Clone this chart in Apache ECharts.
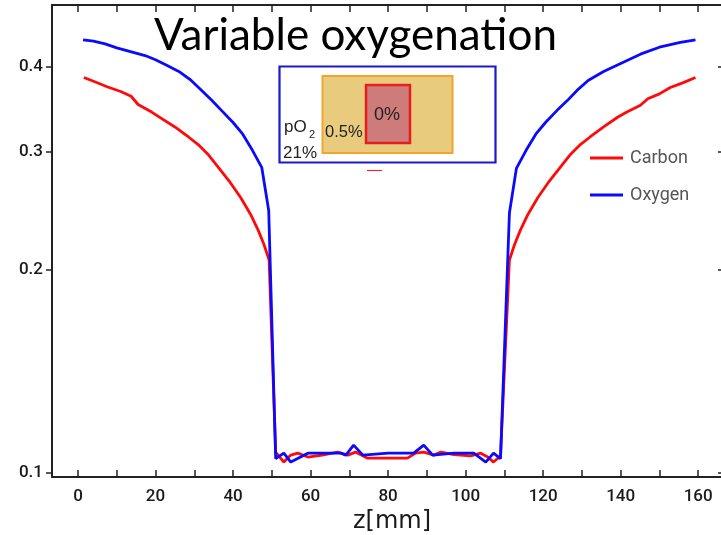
<!DOCTYPE html>
<html><head><meta charset="utf-8">
<script src="https://cdn.jsdelivr.net/npm/echarts@6/dist/echarts.min.js"></script>
<style>html,body{margin:0;padding:0;background:#fff}#c{width:721px;height:535px}</style>
</head><body><div id="c"></div>
<script>
// ---- data ----
const carbonZ = [1.5,4,7.5,11,13.7,15.5,19,21.4,25,28.5,31,33.5,36,39,42,44.5,46.5,48,49.3,
  51.0,53.1,54.9,56.7,59.3,63,67,69.6,71.6,74.7,80,85,87.1,89.2,91.8,93.6,97,101.3,103.9,105.7,107.2,109.0,
  111.3,112.6,114.1,116.1,118.6,121.6,124.6,127.1,129.6,132.1,135.6,139.2,141.6,145.1,147,150,152.8,156,159.3];
const carbonV = [0.386,0.381,0.374,0.368,0.362,0.352,0.343,0.336,0.326,0.315,0.307,0.297,0.285,0.271,0.256,0.242,0.229,0.218,0.207,
  0.1074,0.1038,0.1063,0.107,0.1056,0.1063,0.1074,0.1063,0.1074,0.1052,0.1052,0.1052,0.107,0.1074,0.1063,0.1074,0.1065,0.106,0.107,0.1056,0.1038,0.106,
  0.207,0.218,0.229,0.242,0.256,0.271,0.285,0.297,0.307,0.315,0.326,0.337,0.343,0.351,0.359,0.365,0.373,0.379,0.386];
const oxygenZ = [1.3,4,7,10,14,17.3,20,23,26,29,31.5,34.5,37,40,42.5,45,47.4,49.2,
  51.0,53.1,54.9,59.3,63,67.8,69.1,71.1,73.5,80,86.6,89.2,91.5,97,102.1,105.2,107.2,109.0,
  111.3,113.1,115.6,118.1,120.6,123.6,126.3,129.1,131.6,135.6,140,145.1,150,155.4,159.3];
const oxygenV = [0.439,0.437,0.433,0.427,0.421,0.416,0.410,0.402,0.394,0.383,0.371,0.357,0.345,0.331,0.318,0.301,0.284,0.245,
  0.105,0.107,0.1038,0.107,0.107,0.107,0.1063,0.110,0.1063,0.107,0.107,0.110,0.1063,0.107,0.107,0.1038,0.107,0.105,
  0.243,0.283,0.301,0.318,0.331,0.345,0.357,0.371,0.382,0.394,0.405,0.418,0.428,0.435,0.439];
const xTickValues = [0,10,20,30,40,50,60,70,80,90,100,110,120,130,140,150,160];
const xLabelValues = [0,20,40,60,80,100,120,140,160];
const yTickValues = [0.1,0.2,0.3,0.4];
const seriesNames = ['Carbon','Oxygen'];
const titleText = 'Variable oxygenation';
const xName = 'z[mm]';

const zip = (a,b) => a.map((v,i) => [v, b[i]]);
const axisCol = '#222';
const tickFont = {fontFamily:'Roboto', fontSize:17, fontWeight:500, color:'#1a1a1a'};

const chart = echarts.init(document.getElementById('c'), null, {renderer:'canvas'});
chart.setOption({
  animation:false,
  backgroundColor:'#fff',
  title:{text:titleText, left:149, top:9,
    textStyle:{fontFamily:'Lato', fontSize:44, fontWeight:'normal', color:'#000'}},
  legend:{data:seriesNames, orient:'vertical', left:590, top:148, padding:0,
    itemWidth:33, itemHeight:3, itemGap:17, icon:'rect',
    textStyle:{fontFamily:'Roboto', fontSize:18, lineHeight:20, color:'#555', padding:[0,0,0,2]}},
  grid:{left:52, top:5, right:-2, bottom:58, outerBoundsMode:'none', containLabel:false},
  xAxis:[{type:'value', min:-6.71, max:166.4, position:'bottom',
      name:xName, nameLocation:'middle', nameGap:33,
      nameTextStyle:{fontFamily:'DejaVu Sans', fontSize:24, color:'#1a1a1a', padding:[0,0,0,9]},
      axisLine:{show:true, onZero:false, lineStyle:{color:axisCol, width:2}},
      axisTick:{show:true, inside:true, length:7, customValues:xTickValues, lineStyle:{color:axisCol, width:1.5}},
      axisLabel:{show:true, margin:11, customValues:xLabelValues, ...tickFont},
      splitLine:{show:false}},
    {type:'value', min:-6.71, max:166.4, position:'top',
      axisLine:{show:true, onZero:false, lineStyle:{color:axisCol, width:2}},
      axisTick:{show:true, inside:true, length:7, customValues:xTickValues, lineStyle:{color:axisCol, width:1.5}},
      axisLabel:{show:false}, splitLine:{show:false}}],
  yAxis:[{type:'log', logBase:10, min:0.09864, max:0.4944, position:'left',
      axisLine:{show:true, onZero:false, lineStyle:{color:axisCol, width:2}},
      axisTick:{show:true, inside:false, length:6, customValues:yTickValues, lineStyle:{color:axisCol, width:1.5}},
      axisLabel:{show:true, margin:9, customValues:yTickValues, ...tickFont},
      minorTick:{show:false}, splitLine:{show:false}},
    {type:'log', logBase:10, min:0.09864, max:0.4944, position:'right',
      axisLine:{show:true, onZero:false, lineStyle:{color:axisCol, width:2}},
      axisTick:{show:true, inside:true, length:5, customValues:yTickValues, lineStyle:{color:axisCol, width:1.5}},
      axisLabel:{show:false}, splitLine:{show:false}}],
  series:[
    {name:seriesNames[0], type:'line', xAxisIndex:0, yAxisIndex:0, data:zip(carbonZ, carbonV),
      showSymbol:false, symbol:'none', color:'#ff0a0a', lineStyle:{color:'#ff0a0a', width:2.8}},
    {name:seriesNames[1], type:'line', xAxisIndex:0, yAxisIndex:0, data:zip(oxygenZ, oxygenV),
      showSymbol:false, symbol:'none', color:'#0a0aff', lineStyle:{color:'#0a0aff', width:2.8}}
  ],
  graphic:[
    {type:'rect', shape:{x:279.5, y:66.5, width:216, height:96}, style:{fill:'#fff', stroke:'#1a1acc', lineWidth:2.2}, z:10},
    {type:'rect', shape:{x:322.5, y:76, width:130, height:77}, style:{fill:'#e9cb7e', stroke:'#f2a52c', lineWidth:2}, z:11},
    {type:'rect', shape:{x:366, y:85, width:44, height:58}, style:{fill:'#cd7b7b', stroke:'#e81e1e', lineWidth:2.5}, z:12},
    {type:'text', x:387, y:115, style:{text:'0%', fontFamily:'Liberation Sans', fontSize:18, fill:'#222', align:'center', verticalAlign:'middle'}, z:13},
    {type:'text', x:325, y:132, style:{text:'0.5%', fontFamily:'Liberation Sans', fontSize:16.5, fill:'#222', align:'left', verticalAlign:'middle'}, z:13},
    {type:'text', x:284, y:127, style:{text:'pO', fontFamily:'Liberation Sans', fontSize:17, fill:'#222', align:'left', verticalAlign:'middle'}, z:13},
    {type:'text', x:309, y:135, style:{text:'2', fontFamily:'Liberation Sans', fontSize:11, fill:'#222', align:'left', verticalAlign:'middle'}, z:13},
    {type:'text', x:283, y:153, style:{text:'21%', fontFamily:'Liberation Sans', fontSize:17, fill:'#222', align:'left', verticalAlign:'middle'}, z:13},
    {type:'line', shape:{x1:367, y1:170.5, x2:382, y2:170.5}, style:{stroke:'#e03030', lineWidth:1.2}, z:13}
  ]
});
</script></body></html>
